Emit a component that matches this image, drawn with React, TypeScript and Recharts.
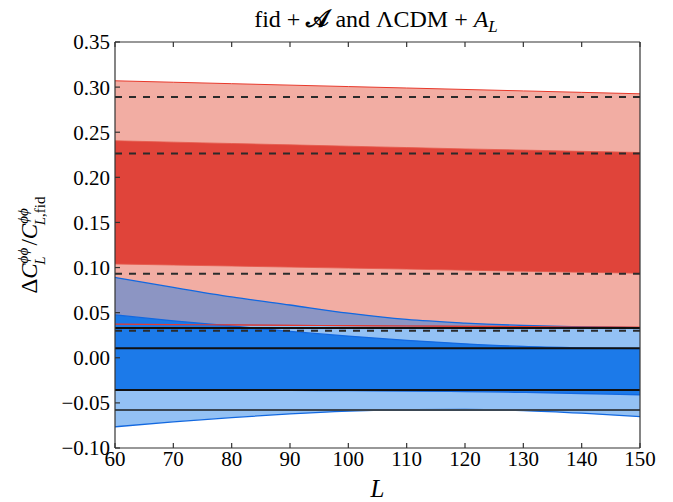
import React from 'react';
import { ComposedChart, Area, Line, XAxis, YAxis, ReferenceLine } from 'recharts';

// multipoles L
const multipoles = [60, 70, 80, 90, 100, 110, 120, 130, 140, 150];

// fid + A forecast bands (red)
const red2Upper = [0.307, 0.3054, 0.3038, 0.3022, 0.3006, 0.299, 0.2974, 0.2958, 0.2942, 0.2926];
const red1Upper = [0.2405, 0.239, 0.2375, 0.236, 0.2345, 0.233, 0.2315, 0.2302, 0.2288, 0.2275];
const red1Lower = [0.104, 0.1028, 0.1017, 0.1005, 0.0994, 0.0983, 0.0971, 0.096, 0.0948, 0.0937];
const red2Lower = [0.0372, 0.0368, 0.0364, 0.036, 0.0356, 0.0352, 0.0349, 0.0345, 0.0341, 0.0338];

// LCDM + A_L forecast bands (blue)
const blue2Upper = [0.089, 0.078, 0.0675, 0.0585, 0.0495, 0.0425, 0.0385, 0.0358, 0.0342, 0.0335];
const blue1Upper = [0.0475, 0.041, 0.0352, 0.0292, 0.024, 0.0193, 0.0155, 0.0125, 0.011, 0.0102];
const blue1Lower = [-0.0358, -0.0359, -0.036, -0.0362, -0.0365, -0.0369, -0.0375, -0.0384, -0.0396, -0.041];
const blue2Lower = [-0.0765, -0.071, -0.0663, -0.0622, -0.0592, -0.0575, -0.0572, -0.0585, -0.0614, -0.0652];

// constant band edges
const dashedLevels = [0.289, 0.2265, 0.093, 0.03];
const solidLevels = [0.033, 0.0105, -0.0357, -0.058];

const xTicks = [60, 70, 80, 90, 100, 110, 120, 130, 140, 150];
const yTicks = [-0.1, -0.05, 0, 0.05, 0.1, 0.15, 0.2, 0.25, 0.3, 0.35];

const data = multipoles.map((L, i) => ({
  L,
  red2: [red2Lower[i], red2Upper[i]],
  red1: [red1Lower[i], red1Upper[i]],
  blue2: [blue2Lower[i], blue2Upper[i]],
  blue1: [blue1Lower[i], blue1Upper[i]],
  redEdge: red2Lower[i],
}));

const serif = 'Liberation Serif';
const fmtY = (v: number) => (v < 0 ? '\u2212' + Math.abs(v).toFixed(2) : v.toFixed(2));
const blank = () => '';

const Labels = () => (
  <svg width={673} height={502} style={{ position: 'absolute', left: 0, top: 0, pointerEvents: 'none', fontFamily: serif }}>
    <text x={376} y={27} textAnchor="middle" fontSize={24} fill="#000" style={{ fontFamily: serif }}>
      fid + <tspan fontWeight="bold">𝒜</tspan> and ΛCDM + <tspan fontStyle="italic">A</tspan>
      <tspan fontStyle="italic" fontSize={17} dy={5}>L</tspan>
    </text>
    <text x={377.5} y={497} textAnchor="middle" fontSize={25} fontStyle="italic" fill="#000" style={{ fontFamily: serif }}>
      L
    </text>
    <g transform="translate(37,245) rotate(-90)">
      <text x={0} y={0} textAnchor="middle" fontSize={23} fill="#000" style={{ fontFamily: serif }}>
        <tspan>Δ</tspan>
        <tspan fontStyle="italic">C</tspan>
        <tspan fontSize={15} fontStyle="italic" dy={-9}>ϕϕ</tspan>
        <tspan fontSize={15} fontStyle="italic" dx={-17} dy={17}>L</tspan>
        <tspan dx={11} dy={-8}>/</tspan>
        <tspan fontStyle="italic">C</tspan>
        <tspan fontSize={15} fontStyle="italic" dy={-9}>ϕϕ</tspan>
        <tspan fontSize={15} dx={-17} dy={17}>
          <tspan fontStyle="italic">L</tspan>,fid
        </tspan>
      </text>
    </g>
  </svg>
);

export default function App() {
  const axisStyle = { stroke: '#333', strokeWidth: 1.2 };
  const tickFont = { fill: '#000', fontSize: 21, fontFamily: serif, style: { fontFamily: serif } };
  return (
    <div style={{ position: 'fixed', left: 0, top: 0, width: 673, height: 502, background: '#fff', fontFamily: serif }}>
      <ComposedChart width={673} height={502} data={data} margin={{ top: 41, right: 28, bottom: 14, left: 0 }}>
        <XAxis
          xAxisId="b"
          dataKey="L"
          type="number"
          domain={[60, 150]}
          ticks={xTicks}
          height={40}
          tickSize={-5}
          tickMargin={8}
          axisLine={axisStyle}
          tickLine={axisStyle}
          tick={tickFont}
        />
        <XAxis
          xAxisId="t"
          orientation="top"
          dataKey="L"
          type="number"
          domain={[60, 150]}
          ticks={xTicks}
          height={1}
          tickSize={-5}
          tickFormatter={blank}
          axisLine={axisStyle}
          tickLine={axisStyle}
        />
        <YAxis
          yAxisId="l"
          type="number"
          domain={[-0.1, 0.35]}
          ticks={yTicks}
          width={115}
          tickSize={-5}
          tickMargin={10}
          tickFormatter={fmtY}
          axisLine={axisStyle}
          tickLine={axisStyle}
          tick={tickFont}
        />
        <YAxis
          yAxisId="r"
          orientation="right"
          type="number"
          domain={[-0.1, 0.35]}
          ticks={yTicks}
          width={5}
          tickSize={-5}
          tickFormatter={blank}
          axisLine={axisStyle}
          tickLine={axisStyle}
        />
        <Area xAxisId="b" yAxisId="l" type="monotone" dataKey="red2" fill="#E24A33" fillOpacity={0.45}
          stroke="#E8392B" strokeWidth={1} isAnimationActive={false} />
        <Area xAxisId="b" yAxisId="l" type="monotone" dataKey="red1" fill="#E0443A" fillOpacity={1}
          stroke="#E5584A" strokeWidth={0.8} isAnimationActive={false} />
        <Area xAxisId="b" yAxisId="l" type="monotone" dataKey="blue2" fill="#1A7BE8" fillOpacity={0.47}
          stroke="#1268E0" strokeWidth={1.3} isAnimationActive={false} />
        <Area xAxisId="b" yAxisId="l" type="monotone" dataKey="blue1" fill="#1878E8" fillOpacity={0.97}
          stroke="#1268E0" strokeWidth={1.3} isAnimationActive={false} />
        <Line xAxisId="b" yAxisId="l" type="monotone" dataKey="redEdge" stroke="#E8392B" strokeWidth={1.2}
          dot={false} activeDot={false} isAnimationActive={false} />
        {dashedLevels.map((v) => (
          <ReferenceLine key={'d' + v} xAxisId="b" yAxisId="l" y={v} stroke="#2b2b2b" strokeWidth={2}
            strokeDasharray="7 7" />
        ))}
        {solidLevels.map((v, i) => (
          <ReferenceLine key={'s' + v} xAxisId="b" yAxisId="l" y={v}
            stroke={i === solidLevels.length - 1 ? '#3a4652' : '#111'} strokeWidth={2} />
        ))}
      </ComposedChart>
      <Labels />
    </div>
  );
}
